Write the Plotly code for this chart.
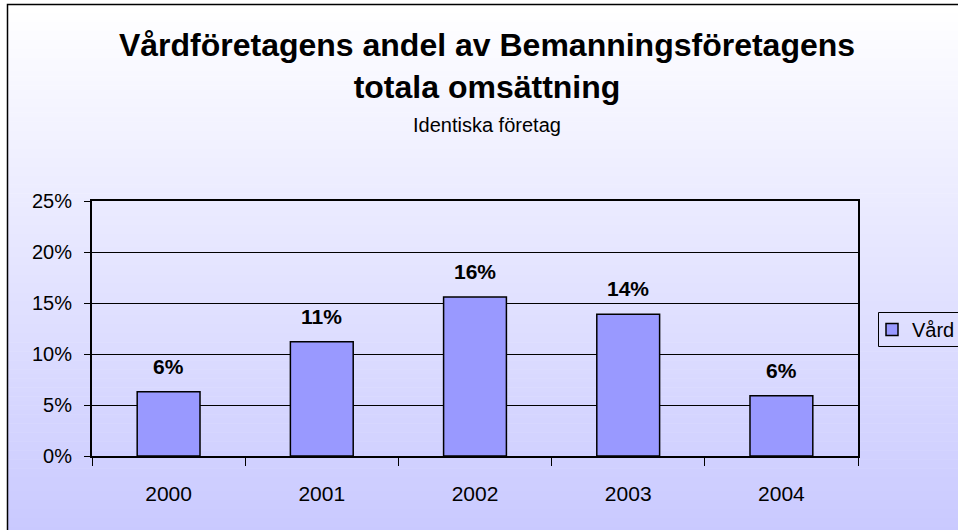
import plotly.graph_objects as go

years = ["2000", "2001", "2002", "2003", "2004"]
share = [0.063, 0.112, 0.156, 0.139, 0.059]
series_name = "Vård"
title_lines = ["Vårdföretagens andel av Bemanningsföretagens", "totala omsättning"]
subtitle = "Identiska företag"

FONT = "Liberation Sans, Arial, sans-serif"

W, H = 958, 530
L, R, T, B = 92, 100, 201, 74
pw = W - L - R
ph = H - T - B

def px_x(px):
    return (px - L) / pw

def px_y(py):
    return (H - B - py) / ph

fig = go.Figure()
fig.add_trace(go.Bar(
    x=years, y=share, name=series_name,
    marker=dict(color="#9999FF", line=dict(color="black", width=1.5)),
    showlegend=True,
))

# data labels (placed by category index on the category axis)
for i, v in enumerate(share):
    fig.add_annotation(x=i, y=v, text=f"<b>{round(v*100):.0f}%</b>", showarrow=False,
                       yanchor="bottom", yshift=12, font=dict(size=21, color="black", family=FONT))

# gradient background stripes
shapes = []
top_px, bot_px = 4, 545
n = 120
c0 = (255, 255, 255)
c1 = (200, 200, 255)
for i in range(n):
    t = i / (n - 1)
    col = tuple(round(c0[k] + (c1[k] - c0[k]) * t) for k in range(3))
    y0 = top_px + (bot_px - top_px) * i / n
    y1 = top_px + (bot_px - top_px) * (i + 1) / n + 0.5
    shapes.append(dict(type="rect", xref="paper", yref="paper", layer="below",
                       x0=px_x(7), x1=px_x(980), y0=px_y(y0), y1=px_y(y1),
                       line=dict(width=0), fillcolor=f"rgb{col}"))
# outer chart border
shapes.append(dict(type="rect", xref="paper", yref="paper", layer="above",
                   x0=px_x(7.5), x1=px_x(980), y0=px_y(4.5), y1=px_y(545),
                   line=dict(color="black", width=1.5), fillcolor="rgba(0,0,0,0)"))
# legend frame
shapes.append(dict(type="rect", xref="paper", yref="paper", layer="above",
                   x0=px_x(878.5), x1=px_x(980), y0=px_y(312.5), y1=px_y(346.5),
                   line=dict(color="black", width=1), fillcolor="rgba(0,0,0,0)"))

fig.add_annotation(xref="paper", yref="paper", x=px_x(487), y=px_y(125), text=subtitle,
                   showarrow=False, yanchor="middle", font=dict(size=20, color="black", family=FONT))

fig.update_layout(
    width=W, height=H,
    margin=dict(l=L, r=R, t=T, b=B, autoexpand=False),
    paper_bgcolor="white",
    plot_bgcolor="rgba(0,0,0,0)",
    shapes=shapes,
    font=dict(family=FONT, color="black", size=20),
    title=dict(text="<b>" + "<br>".join(title_lines) + "</b>", x=487 / W, xanchor="center",
               xref="container", yref="container", y=1 - 56 / H, yanchor="top",
               font=dict(size=32, family=FONT, color="black")),
    bargap=0.59,
    showlegend=True,
    legend=dict(x=px_x(872), xanchor="left", y=px_y(329.5), yanchor="middle",
                bgcolor="rgba(0,0,0,0)", borderwidth=0,
                font=dict(size=20, family=FONT, color="black")),
    xaxis=dict(type="category", range=[-0.5, len(years) - 0.5], showline=True,
               linecolor="black", linewidth=2, mirror=True,
               ticks="outside", tickson="boundaries", ticklen=8, tickcolor="black",
               tickfont=dict(size=21), showgrid=False, ticklabelstandoff=18, tickangle=0),
    yaxis=dict(range=[0, 0.25], dtick=0.05, tickformat=".0%", showline=True,
               linecolor="black", linewidth=2, mirror=True, ticks="outside",
               ticklen=6, tickcolor="black", showgrid=True, gridcolor="black",
               gridwidth=1, zeroline=False, tickfont=dict(size=20), ticklabelstandoff=8),
)

fig.write_html("out.html", config={"displayModeBar": False},
               post_script="document.body.style.margin='0';")
